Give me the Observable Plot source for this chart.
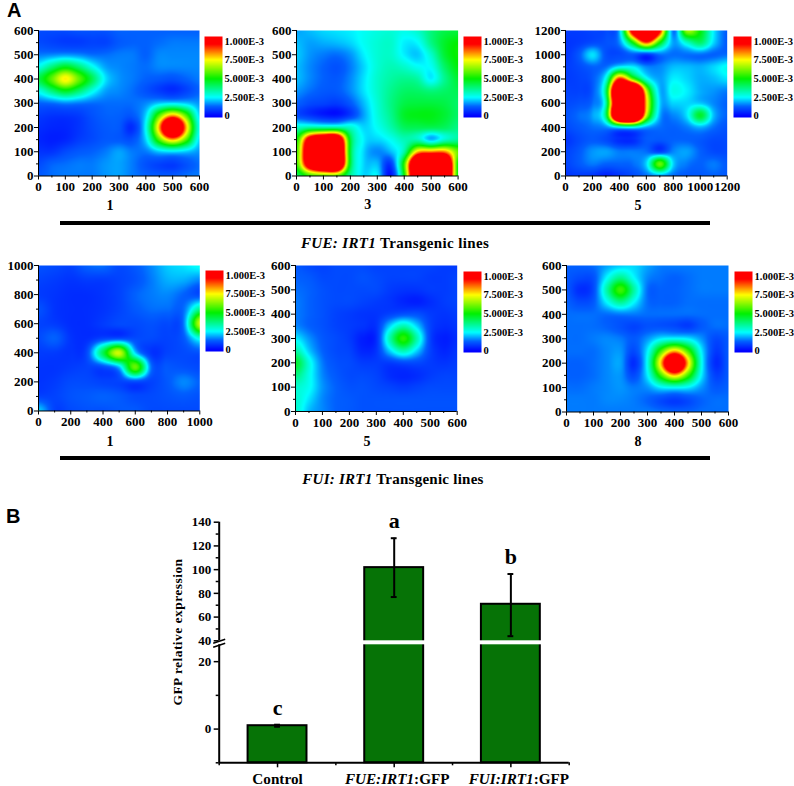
<!DOCTYPE html>
<html><head><meta charset="utf-8">
<script src="https://cdn.jsdelivr.net/npm/d3@7"></script>
<script src="https://cdn.jsdelivr.net/npm/@observablehq/plot@0.6"></script>
<style>
html,body{margin:0;padding:0;background:#fff}
#page{position:relative;width:794px;height:786px;overflow:hidden;background:#fff;font-family:"Liberation Serif",serif;font-weight:bold;color:#000}
#page svg{position:absolute;overflow:visible;background:transparent}
.t{position:absolute;white-space:nowrap;transform:translate(-50%,-50%)}
.r{position:absolute;left:59.5px;width:650.5px;height:4px;background:#000}
.p{position:absolute;font-family:"Liberation Sans",sans-serif;font-size:20px;line-height:20px}
</style></head><body><div id="page"></div>
<script>
// Values are read in units of 1E-4; rows run from the top of the panel to the bottom.
const axis600 = [0,100,200,300,400,500,600];
const axis1200 = [0,200,400,600,800,1000,1200];
const axis1000 = [0,200,400,600,800,1000];

const fue1 = [
[1.0,1.0,1.0,1.1,1.1,1.1,1.3,1.3,1.3,1.3,1.3,1.3,1.3],
[1.0,.9,.8,.8,.9,.9,1.2,1.3,1.3,1.4,1.5,1.5,1.5],
[1.5,1.6,1.7,1.6,1.4,1.4,1.5,1.5,1.3,1.6,1.6,1.6,1.6],
[2.7,3.8,4.7,3.9,2.7,1.8,1.6,1.5,1.4,1.6,1.6,1.6,1.6],
[4.3,5.9,7.6,6,4.2,2.3,1.7,1.5,1.3,1.2,1.1,1.3,1.5],
[2.7,3.8,4.7,3.9,2.7,1.8,1.6,1.4,1.1,.8,.6,.9,1.3],
[1.3,1.4,1.6,1.5,1.4,1.4,1.4,1.4,1.6,2.1,2.3,2.1,1.7],
[.8,.7,.7,.8,1.1,1.3,1.3,1.2,2.2,5.8,8.2,5.8,2.2],
[.6,.5,.5,.7,1.0,1.2,1.2,.6,2.6,8.2,15,8.2,2.6],
[.5,.4,.5,.8,1.0,1.2,1.2,1.1,2.2,5.8,8.2,5.8,2.2],
[.7,.7,1.0,1.2,1.3,1.5,1.8,1.5,1.5,2.1,2.3,2.1,1.7],
[1.0,1.3,1.4,1.5,1.5,1.7,1.8,1.5,1.1,.9,.8,1.1,1.4],
[1.2,1.4,1.5,1.5,1.5,1.7,1.8,1.5,1.3,1.2,1.2,1.4,1.5]];

const fue3 = [
[1.8,2,2.2,2.3,2.4,2.6,2.8,2.9,2.7,3,3.8,4.3,4.4],
[2,1.8,1.9,2,2.2,2.6,2.9,3,2.4,2.5,3.7,4.6,5],
[2.1,1.7,1.5,1.4,1.7,2.4,2.9,3,2.4,2.1,3,4.5,5.1],
[2,1.6,1.3,1.1,1.5,2.2,2.9,3.2,3,2.6,2.6,4,4.9],
[2,1.6,1.3,1.2,1.6,2.3,3,3.4,3.6,3.4,2.4,3.6,4.5],
[1.7,1.4,1.2,1.2,1.6,2.3,3,3.6,4,4,3.8,4,4.2],
[1.3,1,.9,.8,1.2,2,2.9,3.7,4.3,4.4,4.4,4.3,4],
[1,.7,.4,.3,.8,1.8,2.8,3.6,4.6,4.8,4.8,4.5,4],
[3,3.4,3.4,3.4,3,2.2,2.6,3.3,4.1,4.2,4.2,4.1,3.7],
[5,11,13,13,4.5,2.4,2.2,2.6,3.2,3.2,2,3,3.5],
[5.5,13,15,15,4.5,2.2,1.6,2,3.4,8,8.5,8.5,6],
[5.5,12,15,15,4.5,2.2,2,.8,5.5,15,17,15,5],
[4,5.5,6,6,3.5,2.2,2.4,.2,5,15,17,15,5]];

const fue5 = [
[.8,.8,.9,1,2,11,17,10,1.4,6.5,5,2.4,1.2],
[.7,.8,1,1.1,1.6,5,9,5,1.8,3,4,2.2,1.2],
[.7,1.2,2.3,1.1,1,1.2,.7,1.4,1.4,1.4,1.4,1.3,1.4],
[.8,1,1.3,1.4,2.4,2.4,1.6,1.6,2,2,1.9,2.2,2.6],
[.8,.9,1.2,2.8,9.5,6,2.8,1.8,2.4,2.2,1.9,2,2.3],
[.9,.9,1.2,4,17,18,7,2,2.7,2.4,1.9,1.7,1.5],
[1,1.1,1.4,3.4,16,18,8,2.2,2.2,2.2,2.1,1.6,1.3],
[1.1,1.4,1.8,4,17,18,7,1.9,1.6,2.3,4.6,2,1.3],
[1.0,1.2,1.4,1.6,2.4,2.6,1.8,1.4,1.3,1.5,1.9,1.4,1.1],
[.7,1,1.2,1,.6,.6,1.2,1.2,1.3,1.3,1.2,1.0,1],
[.9,1.2,1.7,1.8,1.5,1.5,1.4,.9,1.6,1.8,1.3,1,1],
[.9,1.2,1.5,1.3,1.3,1.4,2.2,6,2.2,1.5,1.3,1.5,1.2],
[.7,.8,.7,.4,.7,1,1.4,1.8,1.4,1.2,1.2,1.3,1.2]];

const fui1 = [
[1.1,1,.9,1.3,1.4,1,1.2,1.6,2.1,2.3,2.6],
[.9,.8,.7,.8,.8,.9,1.1,1.5,1.9,1.9,1.6],
[.8,.7,.6,.6,.7,.9,1.3,1.5,1.6,1.3,1],
[1.1,.7,.6,.6,.7,.9,1.2,1.4,1.4,1.4,3.6],
[.9,.8,.6,.6,.8,1,1,1.1,1,1.5,7],
[1,1.3,.7,.6,.9,1,1,1,.9,1.2,2.8],
[.8,.8,.7,1,4.2,7,2.2,.7,.9,1,1.1],
[.7,.7,.8,.9,1,2,6,1.4,1.2,1.1,1],
[.7,.8,1,1,.9,.9,1,.9,1.2,1.6,1.3],
[.9,.9,1.1,1.2,1.3,1.2,1,1,1.1,1.2,1.1],
[2.2,.9,1,1.1,1.1,1.2,1.2,1,1,1,1]];

const fui5 = [
[1.2,1,.9,1,1,1,.9,.9,.9,.9,.9,.8,.8],
[1.3,1.2,1,1,1,1.1,1,.9,.9,.9,.8,.8,.9],
[1.4,1.3,1.1,1,1,1,1,.8,.7,.7,.8,.8,.9],
[1.5,1.3,1.1,1,1,.9,.8,.7,.5,.4,.6,.8,.9],
[1.5,1.3,1.1,.9,.8,.7,.7,.9,1.1,1.1,.8,.7,.8],
[1.6,1.3,1.1,.9,.8,.7,.7,2.2,3.3,2.2,.9,.6,.7],
[2.4,1.7,1.2,1,.8,.4,.6,3.3,5.4,3.3,.9,.4,.6],
[3.4,2.1,1.3,1,.9,.5,.7,2.2,3.3,2.2,.9,.5,.7],
[4.6,2.8,1.5,1.1,1,.8,.8,.8,1,1,.8,.7,.8],
[3.8,2.7,1.6,1.2,1,1,.9,.6,.5,.6,.8,.9,.9],
[3,2.6,1.7,1.3,1.1,1.1,1,.9,.8,.9,1,1,1],
[3,2.3,1.6,1.3,1.2,1.1,1.1,1.1,1.1,1.1,1.1,1.1,1.1],
[3,2,1.6,1.3,1.2,1.1,1.1,1.1,1.1,1.1,1.1,1.1,1.1]];

const fui8 = [
[1.3,1.3,1.4,1.8,2.1,2.2,1.8,1.5,1.5,1.5,1.5,1.5,1.5],
[1.2,1,1.1,2.5,3.6,2.5,1.6,1.4,1.3,1.4,1.5,1.5,1.5],
[1.2,.6,1,3.4,5.6,3.4,1.4,1.3,1.3,1.4,1.5,1.5,1.5],
[1.3,1,1.2,2.5,3.6,2.5,1.4,1.3,1.3,1.4,1.4,1.4,1.4],
[1.4,1.4,1.4,1.4,1.5,1.5,1.4,1.4,1.4,1.4,1.4,1.4,1.4],
[1.4,1.4,1.4,1.3,1.1,.9,1.1,1.1,1,.8,1.2,1.4,1.4],
[1.4,1.4,1.5,1.6,1.5,1.2,1.7,2.4,2.6,2.4,1.7,1,1.2],
[1.4,1.4,1.4,1.6,1.7,1,2.4,5.6,8,5.6,2.4,.8,1.2],
[1.3,1.3,1.4,1.6,1.8,.6,2.7,8,14,8,2.7,.6,1.2],
[1.3,1.3,1.4,1.6,1.7,1,2.4,5.6,8,5.6,2.4,.9,1.2],
[1.4,1.4,1.5,1.6,1.7,1.5,1.7,2.4,2.6,2.4,1.7,1.2,1.3],
[1.5,1.5,1.5,1.6,1.6,1.5,1.3,1,.8,1,1.3,1.4,1.4],
[1.5,1.5,1.5,1.5,1.5,1.5,1.5,1.4,1.3,1.3,1.4,1.4,1.4]];

const colorStops = [0,1.3,2.5,5,7.5,9.6];
const colorRange = ["#0000ff","#0060ff","#00ffff","#00f000","#ffff00","#ff0000"];
const colorTicks = [0,2.5,5,7.5,10];
const colorLabels = ["0","2.500E-3","5.000E-3","7.500E-3","1.000E-3"];

const categories = ["Control","FUE:IRT1:GFP","FUI:IRT1:GFP"];
const means = [1,101.7,70.8];
const errLow = [0.7,76.9,43.9];
const errHigh = [1.3,126.5,96.3];
const letters = ["c","a","b"];
const barTicks = [0,20,40,60,80,100,120,140];
const barMinor = [-10,10,50,70,90,110,130];

const page = document.getElementById("page");
const color = {type:"linear",domain:colorStops,range:colorRange,clamp:true,interpolate:"rgb"};
const font = {fontFamily:"Liberation Serif",fontWeight:"bold",fontSize:"13px",background:"transparent",overflow:"visible"};

function place(svg,left,top){svg.style.left=left+"px";svg.style.top=top+"px";page.appendChild(svg);}

// spline through the grid that was read, as a contouring program would draw it
function spline(rows,max){
  const n=rows.length-1;
  const cr=(a,b,c,d,t)=>b+.5*t*(c-a+t*(2*a-5*b+4*c-d+t*(3*(b-c)+d-a)));
  const at=(i,j)=>rows[Math.max(0,Math.min(n,i))][Math.max(0,Math.min(n,j))];
  return (x,y)=>{
    const u=Math.min(n-1e-6,Math.max(0,x/max*n)), v=Math.min(n-1e-6,Math.max(0,(max-y)/max*n));
    const j=Math.floor(u),i=Math.floor(v),tx=u-j,ty=v-i;
    const row=k=>cr(at(k,j-1),at(k,j),at(k,j+1),at(k,j+2),tx);
    return cr(row(i-1),row(i),row(i+1),row(i+2),ty);
  };
}

function heat(rows,ticks,fl,ft,fr,fb,cap,capX,capY,barX,barY){
  const max = ticks[ticks.length-1];
  const mL=34,mT=8,mB=26,mR=14;
  const minor = d3.pairs(ticks).map(([a,b])=>(a+b)/2);
  const svg = Plot.plot({
    width:mL+(fr-fl)+mR,height:mT+(fb-ft)+mB,marginLeft:mL,marginTop:mT,marginBottom:mB,marginRight:mR,
    style:font,
    x:{domain:[0,max]},y:{domain:[0,max]},color,
    marks:[
      Plot.raster({fill:spline(rows,max),x1:0,x2:max,y1:0,y2:max,pixelSize:1}),
      Plot.axisX({ticks,tickSize:4,tickPadding:2,label:null,fontSize:13,stroke:"#000",tickFormat:String}),
      Plot.axisX({ticks:minor,tickSize:2,tickFormat:()=>"",label:null,stroke:"#000"}),
      Plot.axisY({ticks,tickSize:4,tickPadding:1,label:null,fontSize:13,stroke:"#000",tickFormat:String}),
      Plot.axisY({ticks:minor,tickSize:2,tickFormat:()=>"",label:null,stroke:"#000"}),
      Plot.ruleX([0],{stroke:"#000"}),Plot.ruleY([0],{stroke:"#000"})
    ]});
  place(svg,fl-mL,ft-mT);
  // colour key
  const key = Plot.plot({
    width:18+52,height:81+10,marginLeft:0,marginRight:52,marginTop:5,marginBottom:5,
    style:font,
    x:{domain:[0,1],axis:null},
    y:{domain:[-0.19,10.63]},color,
    marks:[
      Plot.raster({fill:(x,y)=>y,x1:0,x2:1,y1:-0.19,y2:10.63,pixelSize:1}),
      Plot.axisY({anchor:"right",ticks:colorTicks,tickSize:0,tickPadding:2,label:null,fontSize:10.5,
        tickFormat:d=>colorLabels[colorTicks.indexOf(d)]})
    ]});
  place(key,barX,barY-5);
  const c=document.createElement("div");c.className="t";c.textContent=cap;
  c.style.cssText=`left:${capX}px;top:${capY}px;font-size:14px`;page.appendChild(c);
}

heat(fue1,axis600,37.5,29.5,198.5,175,"1",110,205.5,204,35.7);
heat(fue3,axis600,295.7,29.5,457.3,175,"3",367.7,205,463,35.7);
heat(fue5,axis1200,565.3,29.5,727,175,"5",638,205.5,733,35.7);
heat(fui1,axis1000,37.7,264.5,199,410,"1",110,441.7,205,270);
heat(fui5,axis600,295.3,265,457,411,"5",367,442,462.5,270.5);
heat(fui8,axis600,566,265,728,411.5,"8",638,442,734,270.5);

// part B
const bars = categories.map((c,i)=>({c,i,m:means[i],lo:errLow[i],hi:errHigh[i],l:letters[i]}));
const barPlot = Plot.plot({
  width:794,height:281,marginLeft:218.7,marginRight:225.3,marginTop:16.7,marginBottom:23.7,
  style:font,
  x:{domain:[0,3],range:[218.7,568.7]},
  y:{type:"linear",domain:[-10,25,40,140],range:[257.3,139.3,135.3,16.7]},
  marks:[
    Plot.rect(bars,{x1:d=>d.i+.2475,x2:d=>d.i+.7525,y1:-10,y2:"m",fill:"#067306",stroke:"#000",strokeWidth:2}),
    Plot.rect(bars,{x1:d=>d.i+.23,x2:d=>d.i+.77,y1:25,y2:40,fill:"#fff"}),
    Plot.ruleX(bars,{x:d=>d.i+.5,y1:"lo",y2:"hi",stroke:"#000",strokeWidth:2}),
    Plot.ruleY(bars,{y:"hi",x1:d=>d.i+.475,x2:d=>d.i+.525,stroke:"#000",strokeWidth:2}),
    Plot.ruleY(bars,{y:"lo",x1:d=>d.i+.475,x2:d=>d.i+.525,stroke:"#000",strokeWidth:2}),
    Plot.ruleX([0],{y1:-10,y2:25,stroke:"#000",strokeWidth:2}),
    Plot.ruleX([0],{y1:40,y2:140,stroke:"#000",strokeWidth:2}),
    Plot.ruleY([-10],{stroke:"#000",strokeWidth:2,x1:0,x2:3}),
    Plot.axisY({ticks:barTicks,tickSize:5,tickPadding:3,label:null,fontSize:13,anchor:"left",strokeWidth:1.5,stroke:"#000",tickFormat:String}),
    Plot.axisY({ticks:barMinor,tickSize:3,tickFormat:()=>"",label:null,anchor:"left",strokeWidth:1.5,stroke:"#000"}),
    Plot.axisX({ticks:[.5,1.5,2.5],tickSize:5,tickPadding:5,fontSize:15.2,label:null,strokeWidth:1.5,stroke:"#000",
      tickFormat:d=>categories[d-.5]}),
    Plot.axisX({ticks:[0,1,2,3],tickSize:3,tickFormat:()=>"",label:null,strokeWidth:1.5,stroke:"#000"}),
    Plot.text(bars,{x:d=>d.i+.5,y:"hi",text:"l",dy:-17,fontSize:22,fontWeight:"bold",fill:"#000",
      fontFamily:"Liberation Serif"}),
    Plot.dot([32.5],{x:()=>0,y:d=>d,r:5,stroke:"#000",strokeWidth:1.5,fill:"none",
      symbol:{draw(ctx){ctx.moveTo(-6,0.5);ctx.lineTo(6,-3.5);ctx.moveTo(-6,4.5);ctx.lineTo(6,0.5);}}})
  ]});
place(barPlot,0,505);
const catDx=[0,3,8];
barPlot.querySelectorAll("text").forEach(t=>{
  const i=categories.indexOf(t.textContent);
  if(i>=0){
    const p=categories[i].split(":");
    t.innerHTML = p.length>1 ? `<tspan font-style="italic">${p[0]}:${p[1]}</tspan>:${p[2]}` : categories[i];
    t.setAttribute("dx",catDx[i]);
  }
});

function html(cls,css,inner){const d=document.createElement("div");d.className=cls;d.style.cssText=css;d.innerHTML=inner;page.appendChild(d);}
html("p","left:7px;top:0px","A");
html("p","left:6px;top:506px","B");
html("r","top:221px","");
html("r","top:456.3px","");
html("t","left:395px;top:243px;font-size:15px;letter-spacing:.35px","<i>FUE: IRT1</i> Transgenic lines");
html("t","left:393px;top:479px;font-size:15px;letter-spacing:.25px","<i>FUI: IRT1</i> Transgenic lines");
html("t","left:178px;top:632px;font-size:13.5px;letter-spacing:.45px;transform:translate(-50%,-50%) rotate(-90deg)","GFP relative expression");
</script></body></html>
